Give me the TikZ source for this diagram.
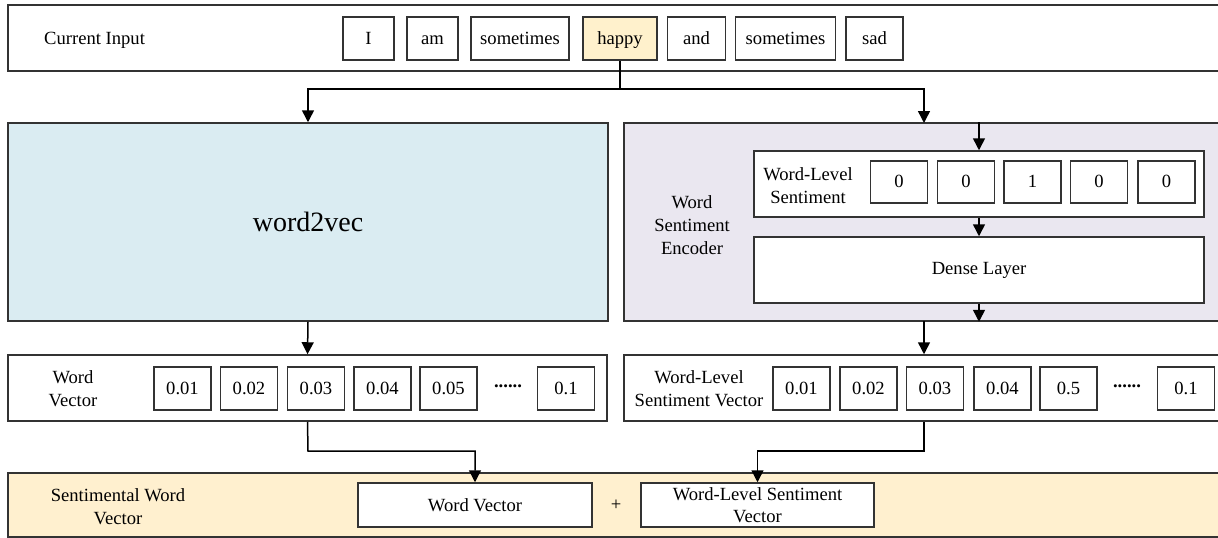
\documentclass[tikz,border=0pt]{standalone}
\usepackage{fontspec}
\setmainfont{Liberation Serif}
\usetikzlibrary{arrows.meta}
\definecolor{wvblue}{HTML}{DAECF2}
\definecolor{enclav}{HTML}{EAE7F0}
\definecolor{hapyel}{HTML}{FFF1CC}
\definecolor{bandyel}{HTML}{FFF0CF}
\definecolor{edge}{HTML}{333333}
\begin{document}
\begin{tikzpicture}[x=1pt,y=-1pt,
  every node/.style={font=\fontsize{18.6}{23}\selectfont},
  frame/.style={draw=edge,line width=1.5pt,inner sep=0pt,anchor=center},
  cell/.style={frame,fill=white,minimum height=43pt,minimum width=57pt,text height=13pt,text depth=2pt},
  txt/.style={inner sep=0pt,align=center},
  arr/.style={draw=black,line width=1.5pt,-{Triangle[width=12pt,length=12pt]}},
  ln/.style={draw=black,line width=1.5pt}]
\useasboundingbox (0,0) rectangle (1218,538);
\clip (0,0) rectangle (1218,538);

% ---------- top row ----------
\node[frame,fill=white,minimum width=1232pt,minimum height=66pt] (top) at (624,38) {};
\node[txt,anchor=west] (cur) at (44,40) {Current Input};
\node[cell,minimum width=51pt] (w1) at (368.5,38.5) {I};
\node[cell,minimum width=51pt] (w2) at (432.5,38.5) {am};
\node[cell,minimum width=98pt] (w3) at (520,38.5) {sometimes};
\node[cell,fill=hapyel,minimum width=74pt] (w4) at (620,38.5) {happy};
\node[cell,minimum width=58pt] (w5) at (696.5,38.5) {and};
\node[cell,minimum width=100pt] (w6) at (785.5,38.5) {sometimes};
\node[cell,minimum width=57pt] (w7) at (874.5,38.5) {sad};

% ---------- middle panels ----------
\node[frame,fill=wvblue,minimum width=600pt,minimum height=198pt,font=\fontsize{28}{34}\selectfont] (w2v) at (308,222) {word2vec};
\node[frame,fill=enclav,minimum width=616pt,minimum height=198pt] (enc) at (932,222) {};
\node[txt] (enclab) at (692,225) {Word\\Sentiment\\Encoder};
\node[frame,fill=white,minimum width=450pt,minimum height=66pt] (wls) at (979,184) {};
\node[txt] (wlslab) at (808,186) {Word-Level\\Sentiment};
\node[cell,minimum height=42pt] (s1) at (899,182) {0};
\node[cell,minimum height=42pt] (s2) at (966,182) {0};
\node[cell,minimum height=42pt] (s3) at (1032.5,182) {1};
\node[cell,minimum height=42pt] (s4) at (1099,182) {0};
\node[cell,minimum height=42pt] (s5) at (1166.5,182) {0};
\node[frame,fill=white,minimum width=450pt,minimum height=66pt] (dense) at (979,270) {Dense Layer};

% ---------- vector rows ----------
\node[frame,fill=white,minimum width=599pt,minimum height=66pt] (wv) at (307.5,388) {};
\node[txt] (wvlab) at (73,389) {Word\\Vector};
\node[cell] (v1) at (182.5,388.5) {0.01};
\node[cell] (v2) at (249,388.5) {0.02};
\node[cell] (v3) at (316,388.5) {0.03};
\node[cell] (v4) at (382.5,388.5) {0.04};
\node[cell] (v5) at (448.5,388.5) {0.05};
\node[txt] (vd) at (508,386) {\textbf{......}};
\node[cell] (v7) at (566,388.5) {0.1};

\node[frame,fill=white,minimum width=616pt,minimum height=66pt] (wlsv) at (932,388) {};
\node[txt] (wlsvlab) at (699,389) {Word-Level\\Sentiment Vector};
\node[cell] (u1) at (801.5,388.5) {0.01};
\node[cell] (u2) at (868.5,388.5) {0.02};
\node[cell] (u3) at (935,388.5) {0.03};
\node[cell] (u4) at (1002.5,388.5) {0.04};
\node[cell] (u5) at (1068.5,388.5) {0.5};
\node[txt] (ud) at (1127,386) {\textbf{......}};
\node[cell] (u7) at (1186,388.5) {0.1};

% ---------- bottom band ----------
\node[frame,fill=bandyel,minimum width=1232pt,minimum height=64pt] (band) at (624,505) {};
\node[txt] (bandlab) at (118,507) {Sentimental Word\\Vector};
\node[frame,fill=white,minimum width=234pt,minimum height=44pt] (wvin) at (475,505) {Word Vector};
\node[txt] (plus) at (616,505) {+};
\node[frame,fill=white,minimum width=233pt,minimum height=44pt,align=center,font=\fontsize{18.6}{21.5}\selectfont] (wlsvin) at (757.5,505) {Word-Level Sentiment\\Vector};

% ---------- connectors ----------
\coordinate (hj) at (620,89);
\coordinate (encin) at (924,123);
\coordinate (encout) at (924,321);
\coordinate (lj) at (308,451);
\coordinate (rj) at (924,451);
\draw[ln] (w4.south) -- (hj);
\draw[arr] (hj) -| (w2v.north);
\draw[arr] (hj) -| (encin);
\draw[arr] (wls.north |- enc.north) -- (wls.north);
\draw[arr] (wls.south) -- (dense.north);
\draw[arr] (dense.south) -- (dense.south |- enc.south);
\draw[arr] (w2v.south) -- (wv.north);
\draw[arr] (encout) -- (encout |- wlsv.north);
\draw[arr] (wv.south) -- (lj) -| (wvin.north);
\draw[arr] (encout |- wlsv.south) -- (rj) -| (wlsvin.north);
\end{tikzpicture}
\end{document}
